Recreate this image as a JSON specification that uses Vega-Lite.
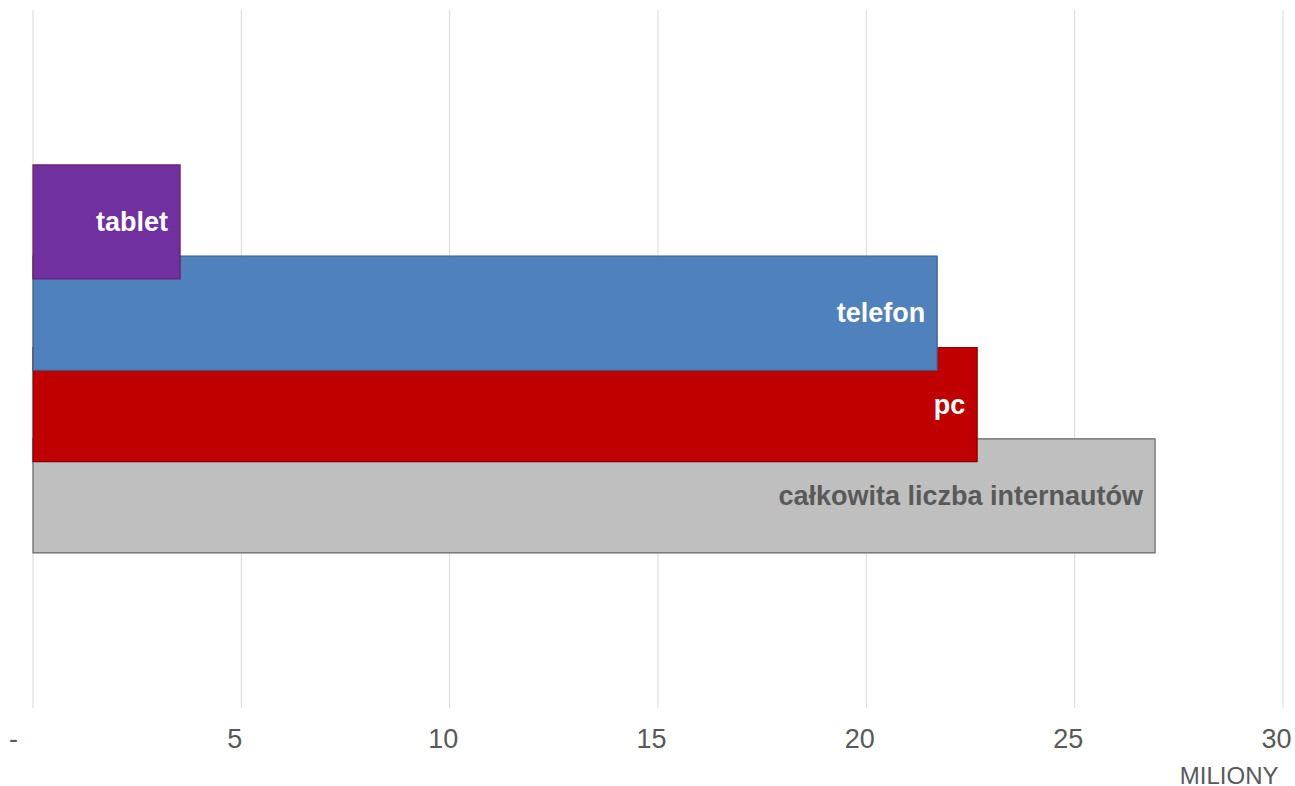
{
  "$schema": "https://vega.github.io/schema/vega-lite/v6.json",
  "width": 1250,
  "height": 698,
  "autosize": {"type": "none"},
  "padding": {"left": 33, "top": 10, "right": 12, "bottom": 78},
  "background": "white",
  "config": {
    "view": {"stroke": null},
    "font": "Liberation Sans",
    "axisX": {
      "titleFont": "Liberation Sans",
      "titleFontSize": 24,
      "titleFontWeight": "normal",
      "titleColor": "#595959",
      "titleAnchor": null,
      "titleAlign": "right",
      "titleBaseline": "alphabetic",
      "titleX": 1245,
      "titleY": 75,
      "labelFont": "Liberation Sans",
      "labelFontSize": 27,
      "labelColor": "#595959",
      "labelAlign": "center",
      "labelBaseline": "top",
      "labelPadding": 18,
      "labelFlush": false,
      "labelOverlap": false,
      "domain": false,
      "ticks": false,
      "grid": false
    }
  },
  "datasets": {
    "devices": [
      {"device": "całkowita liczba internautów", "value": 26.93},
      {"device": "pc", "value": 22.66},
      {"device": "telefon", "value": 21.7},
      {"device": "tablet", "value": 3.53}
    ],
    "gridTicks": [
      {"tick": 0}, {"tick": 5}, {"tick": 10}, {"tick": 15}, {"tick": 20}, {"tick": 25}, {"tick": 30}
    ]
  },
  "layer": [
    {
      "data": {"name": "gridTicks"},
      "mark": {"type": "rule", "color": "#D9D9D9", "strokeWidth": 1},
      "encoding": {
        "x": {
          "field": "tick",
          "type": "quantitative",
          "scale": {"domain": [0, 30], "nice": false},
          "title": "MILIONY",
          "axis": {
            "values": [0, 5, 10, 15, 20, 25, 30],
            "labelExpr": "datum.value === 0 ? '-' : datum.label",
            "labelOffset": {"condition": {"test": "datum.value === 0", "value": -20}, "value": -7}
          }
        }
      }
    },
    {
      "data": {"name": "devices"},
      "encoding": {
        "y": {
          "field": "device",
          "type": "nominal",
          "sort": null,
          "scale": {
            "domain": ["tablet", "telefon", "pc", "całkowita liczba internautów"],
            "range": [166.3, 531.5],
            "paddingInner": 0,
            "paddingOuter": 0
          },
          "axis": null
        },
        "x": {
          "field": "value",
          "type": "quantitative",
          "scale": {"domain": [0, 30], "nice": false},
          "title": "MILIONY",
          "axis": {
            "values": [0, 5, 10, 15, 20, 25, 30],
            "labelExpr": "datum.value === 0 ? '-' : datum.label",
            "labelOffset": {"condition": {"test": "datum.value === 0", "value": -20}, "value": -7}
          }
        }
      },
      "layer": [
        {
          "mark": {"type": "bar", "height": {"band": 1.25}, "strokeWidth": 1.2},
          "encoding": {
            "color": {
              "field": "device",
              "type": "nominal",
              "scale": {
                "domain": ["tablet", "telefon", "pc", "całkowita liczba internautów"],
                "range": ["#7030A0", "#4F81BD", "#C00000", "#BFBFBF"]
              },
              "legend": null
            },
            "stroke": {
              "field": "device",
              "type": "nominal",
              "scale": {
                "domain": ["tablet", "telefon", "pc", "całkowita liczba internautów"],
                "range": ["#6B1F66", "#385D8A", "#8C0000", "#666666"]
              },
              "legend": null
            },
            "fillOpacity": {"value": 1}
          }
        },
        {
          "mark": {
            "type": "text",
            "align": "right",
            "baseline": "middle",
            "dx": -12,
            "dy": 1,
            "fontSize": 27,
            "fontWeight": "bold",
            "font": "Liberation Sans"
          },
          "encoding": {
            "text": {"field": "device"},
            "color": {
              "condition": {"test": "datum.device === 'całkowita liczba internautów'", "value": "#595959"},
              "value": "#FFFFFF"
            }
          }
        }
      ]
    }
  ]
}
